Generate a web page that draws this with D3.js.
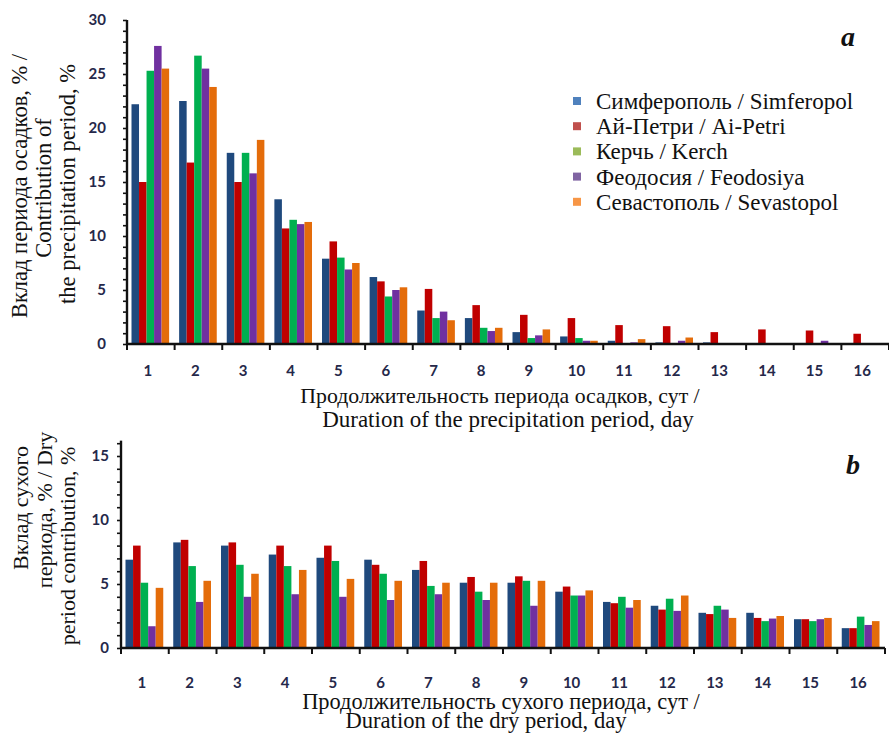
<!DOCTYPE html>
<html>
<head>
<meta charset="utf-8">
<script src="https://d3js.org/d3.v7.min.js"></script>
<style>
  body { margin: 0; background: #fff; }
  svg { display: block; }
  .tick-label { font-family: Lato, "Open Sans", sans-serif; font-weight: 700; font-size: 15px; fill: #25284a; }
  text.title { font-family: 'Liberation Serif', serif; font-size: 23px; fill: #111; }
</style>
</head>
<body>
<script>
// categories (days)
var days = d3.range(1, 17);

// station names
var stations = ["Симферополь / Simferopol", "Ай-Петри / Ai-Petri", "Керчь / Kerch", "Феодосия / Feodosiya", "Севастополь / Sevastopol"];
var barColors = ["#1f497d", "#c00000", "#00b050", "#7030a0", "#e46c0a"];
var legendColors = ["#4f81bd", "#c0504d", "#9bbb59", "#8064a2", "#f79646"];

// (a) contribution of precipitation period, %
var precSimferopol = [22.2, 22.5, 17.7, 13.4, 7.9, 6.2, 3.1, 2.4, 1.1, 0.7, 0.3, 0.15, 0.15, 0, 0, 0];
var precAiPetri    = [15.0, 16.8, 15.0, 10.7, 9.5, 5.8, 5.1, 3.6, 2.7, 2.4, 1.75, 1.65, 1.1, 1.35, 1.25, 0.95];
var precKerch      = [25.3, 26.7, 17.7, 11.5, 8.0, 4.4, 2.4, 1.5, 0.55, 0.55, 0, 0, 0, 0, 0, 0];
var precFeodosiya  = [27.6, 25.5, 15.8, 11.1, 6.9, 5.0, 3.0, 1.2, 0.8, 0.3, 0.15, 0.3, 0, 0, 0.3, 0];
var precSevastopol = [25.5, 23.8, 18.9, 11.3, 7.5, 5.25, 2.2, 1.5, 1.35, 0.3, 0.45, 0.6, 0, 0, 0, 0];

// (b) dry period contribution, %
var drySimferopol = [6.9, 8.25, 8.0, 7.3, 7.05, 6.9, 6.1, 5.1, 5.1, 4.4, 3.6, 3.3, 2.75, 2.75, 2.25, 1.55];
var dryAiPetri    = [8.0, 8.45, 8.25, 8.0, 8.0, 6.5, 6.8, 5.55, 5.6, 4.8, 3.5, 3.0, 2.65, 2.35, 2.25, 1.55];
var dryKerch      = [5.1, 6.4, 6.5, 6.4, 6.8, 5.8, 4.85, 4.4, 5.25, 4.1, 4.0, 3.85, 3.3, 2.1, 2.1, 2.45];
var dryFeodosiya  = [1.7, 3.6, 4.0, 4.2, 4.0, 3.75, 4.2, 3.75, 3.3, 4.1, 3.15, 2.9, 3.0, 2.3, 2.25, 1.8];
var drySevastopol = [4.7, 5.25, 5.8, 6.1, 5.4, 5.25, 5.1, 5.1, 5.25, 4.5, 3.75, 4.1, 2.35, 2.5, 2.35, 2.1];

var precTicks = [0, 5, 10, 15, 20, 25, 30];
var dryTicks = [0, 5, 10, 15];

var precSeries = [precSimferopol, precAiPetri, precKerch, precFeodosiya, precSevastopol];
var drySeries = [drySimferopol, dryAiPetri, dryKerch, dryFeodosiya, drySevastopol];

var serif = "'Liberation Serif', serif";

var svg = d3.select("body").append("svg")
    .attr("width", 889)
    .attr("height", 733);

function drawPanel(opt) {
  var x = d3.scaleBand().domain(days).range([opt.x0, opt.x1]);
  var x1 = d3.scaleBand().domain(d3.range(5)).range([4.5, x.bandwidth() - 5.5]);
  var y = d3.scaleLinear().domain([0, opt.max]).range([opt.yBottom, opt.yTop]);

  var g = svg.append("g");

  // bars
  opt.series.forEach(function(vals, s) {
    g.selectAll(null)
      .data(days)
      .enter().append("rect")
      .attr("x", function(d) { return x(d) + x1(s); })
      .attr("y", function(d, i) { return y(vals[i]); })
      .attr("width", x1.bandwidth())
      .attr("height", function(d, i) { return y(0) - y(vals[i]); })
      .attr("fill", barColors[s]);
  });

  // y axis with minor ticks every 1
  var yAxis = d3.axisLeft(y)
    .tickValues(d3.range(0, opt.axisTop + 0.01, 1))
    .tickSize(4)
    .tickFormat("");
  var ya = g.append("g")
    .attr("transform", "translate(" + opt.x0 + ",0)")
    .call(yAxis);
  ya.select(".domain").remove();
  ya.selectAll("line").attr("stroke", "#111").attr("stroke-width", 1.6);
  g.append("line")
    .attr("x1", opt.x0).attr("x2", opt.x0)
    .attr("y1", y(0) + 1).attr("y2", y(opt.axisTop))
    .attr("stroke", "#111").attr("stroke-width", 2.4);

  g.selectAll(null)
    .data(opt.ticks)
    .enter().append("text")
    .attr("class", "tick-label")
    .attr("x", opt.labelRight)
    .attr("y", function(d) { return y(d); })
    .attr("dy", "0.35em")
    .attr("text-anchor", "end")
    .text(function(d) { return d; });

  // x axis line and boundary ticks
  g.append("line")
    .attr("x1", opt.x0).attr("x2", opt.x1)
    .attr("y1", y(0)).attr("y2", y(0))
    .attr("stroke", "#111").attr("stroke-width", 2.4);
  var bounds = days.map(function(d) { return x(d); }).concat([opt.x1]);
  g.selectAll(null)
    .data(bounds)
    .enter().append("line")
    .attr("x1", function(d) { return d; })
    .attr("x2", function(d) { return d; })
    .attr("y1", y(0))
    .attr("y2", y(0) + 6)
    .attr("stroke", "#111").attr("stroke-width", 2);

  g.selectAll(null)
    .data(days)
    .enter().append("text")
    .attr("class", "tick-label")
    .attr("x", function(d) { return x(d) + x.bandwidth() / 2 - 3; })
    .attr("y", opt.xLabelY)
    .attr("text-anchor", "middle")
    .text(function(d) { return d; });
}

drawPanel({
  series: precSeries, x0: 127, x1: 889, yTop: 20, yBottom: 344,
  max: 30, axisTop: 30, ticks: precTicks, labelRight: 106, xLabelY: 376
});

drawPanel({
  series: drySeries, x0: 121, x1: 885, yTop: 456, yBottom: 648,
  max: 15, axisTop: 16.2, ticks: dryTicks, labelRight: 109, xLabelY: 688
});

// axis titles
function titleLines(lines) {
  lines.forEach(function(l) {
    var t = svg.append("text")
      .attr("class", "title")
      .attr("font-family", serif)
      .style("font-size", l.size + "px")
      .attr("text-anchor", "middle")
      .text(l.text);
    if (l.rot) {
      t.attr("transform", "translate(" + l.x + "," + l.y + ") rotate(-90)");
    } else {
      t.attr("x", l.x).attr("y", l.y);
    }
  });
}

titleLines([
  { text: "Продолжительность периода осадков, сут /", x: 500, y: 403, size: 21.8 },
  { text: "Duration of the precipitation period, day", x: 508, y: 427, size: 23 },
  { text: "Вклад периода осадков, % /", x: 27, y: 186, rot: true, size: 22.5 },
  { text: "Contribution of", x: 51, y: 188, rot: true, size: 22.5 },
  { text: "the precipitation period, %", x: 75, y: 184, rot: true, size: 22.5 },
  { text: "Продолжительность сухого периода, сут /", x: 501, y: 709, size: 22.4 },
  { text: "Duration of the dry period, day", x: 486, y: 728, size: 22.6 },
  { text: "Вклад сухого", x: 28, y: 508, rot: true, size: 22 },
  { text: "периода, % / Dry", x: 52, y: 510, rot: true, size: 22 },
  { text: "period contribution, %", x: 75, y: 546, rot: true, size: 22 }
]);

// panel letters
svg.append("text").attr("class", "title")
  .attr("font-family", serif)
  .attr("x", 841).attr("y", 46)
  .style("font-weight", "bold").style("font-style", "italic").style("font-size", "28px")
  .text("a");
svg.append("text").attr("class", "title")
  .attr("font-family", serif)
  .attr("x", 846).attr("y", 474)
  .style("font-weight", "bold").style("font-style", "italic").style("font-size", "28px")
  .text("b");

// legend
var legend = svg.append("g").attr("transform", "translate(573,101)");
stations.forEach(function(name, i) {
  var row = legend.append("g").attr("transform", "translate(0," + (i * 25.2) + ")");
  row.append("rect")
    .attr("x", 0).attr("y", -4).attr("width", 8).attr("height", 8)
    .attr("fill", legendColors[i]);
  row.append("text")
    .attr("class", "title")
    .attr("font-family", serif)
    .attr("x", 23).attr("y", 0)
    .attr("dy", "0.35em")
    .text(name);
});
</script>
</body>
</html>
